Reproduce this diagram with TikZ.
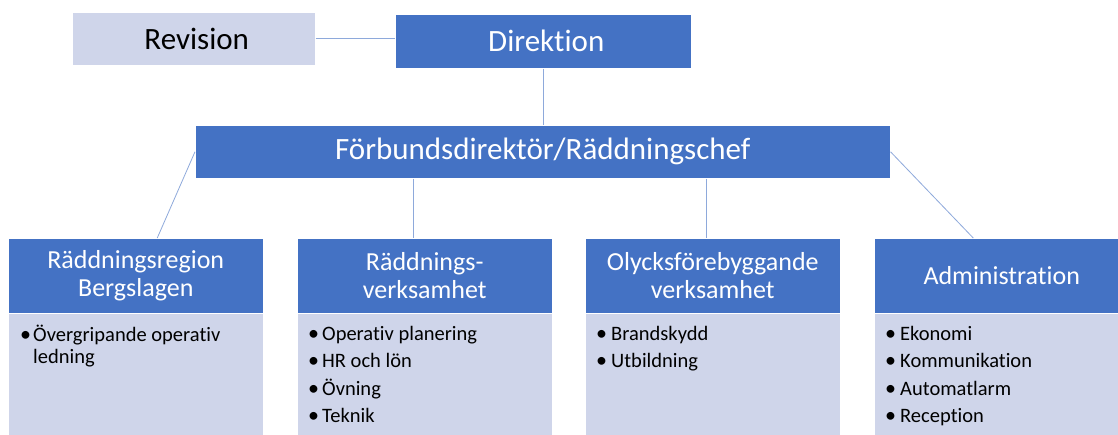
\documentclass[tikz,border=0pt]{standalone}
\usepackage{fontspec}
\setmainfont[Ligatures={NoCommon,NoContextual}]{Carlito}
\usetikzlibrary{calc}
\definecolor{hdr}{HTML}{4472C4}
\definecolor{lite}{HTML}{CFD5EA}
\definecolor{conn}{HTML}{8EA9DB}
\tikzset{
  box/.style={draw=white, line width=0.5pt, inner sep=0pt, anchor=north west, align=center},
  topbox/.style={box, fill=hdr, text=white, font=\fontsize{31}{37}\selectfont},
  revbox/.style={box, fill=lite, text=black, font=\fontsize{31}{37}\selectfont},
  headbox/.style={box, fill=hdr, text=white, font=\fontsize{26}{28}\selectfont, minimum width=255pt, minimum height=75pt},
  bodybox/.style={box, fill=lite, minimum width=255pt, minimum height=125pt},
  itemtxt/.style={anchor=base west, inner sep=0pt, text=black, font=\fontsize{20.5}{22}\selectfont},
  bul/.style={itemtxt, font=\fontsize{22}{22}\selectfont},
  conline/.style={draw=conn, line width=0.8pt}
}
\begin{document}
\begin{tikzpicture}[x=1pt,y=-1pt]
\useasboundingbox (0,0) rectangle (1118,434);
\clip (0,0) rectangle (1118,434);
\fill[white] (0,0) rectangle (1118,434);

% top level
\node[revbox, minimum width=243pt, minimum height=53pt] (rev) at (72,12) {\hspace*{6pt}Revision};
\node[topbox, minimum width=296pt, minimum height=54pt] (dir) at (395,14) {\hspace*{6pt}Direktion};
\node[topbox, minimum width=695pt, minimum height=53pt] (forb) at (195,125) {Förbundsdirektör/Räddningschef};

% bottom boxes
\node[headbox] (h1) at (8,238) {Räddningsregion\\Bergslagen};
\node[bodybox] (b1) at (8,313) {};
\node[headbox] (h2) at (297,238) {Räddnings-\\verksamhet};
\node[bodybox] (b2) at (297,313) {};
\node[headbox] (h3) at (585,238) {Olycksförebyggande\\verksamhet};
\node[bodybox] (b3) at (585,313) {};
\node[headbox] (h4) at (874,238) {Administration};
\node[bodybox] (b4) at (874,313) {};

% connectors
\coordinate (c1) at ([xshift=21.5pt]h1.north);
\coordinate (c2) at ([xshift=-11.5pt]h2.north);
\coordinate (c3) at ([xshift=-6.5pt]h3.north);
\coordinate (c4) at ([xshift=-28.5pt]h4.north);
\draw[conline] (rev.east |- 0,38) -- (dir.west |- 0,38);
\draw[conline] (dir.south) -- (forb.north -| dir.south);
\draw[conline] (forb.west) -- (c1);
\draw[conline] (forb.south -| c2) -- (c2);
\draw[conline] (forb.south -| c3) -- (c3);
\draw[conline] (forb.east) -- (c4);

% items box 1
\node[bul] (p1) at (20,341) {\textbullet};
\node[itemtxt] (t1a) at (33,341) {Övergripande operativ};
\node[itemtxt] (t1b) at (33,363) {ledning};

% items box 2
\node[bul] (p2a) at (308,340) {\textbullet};
\node[itemtxt] (t2a) at (322,340) {Operativ planering};
\node[bul] (p2b) at (308,367.5) {\textbullet};
\node[itemtxt] (t2b) at (322,367.5) {HR och lön};
\node[bul] (p2c) at (308,395) {\textbullet};
\node[itemtxt] (t2c) at (322,395) {Övning};
\node[bul] (p2d) at (308,422.5) {\textbullet};
\node[itemtxt] (t2d) at (322,422.5) {Teknik};

% items box 3
\node[bul] (p3a) at (596,340) {\textbullet};
\node[itemtxt] (t3a) at (611,340) {Brandskydd};
\node[bul] (p3b) at (596,367.5) {\textbullet};
\node[itemtxt] (t3b) at (611,367.5) {Utbildning};

% items box 4
\node[bul] (p4a) at (885,340) {\textbullet};
\node[itemtxt] (t4a) at (900,340) {Ekonomi};
\node[bul] (p4b) at (885,367.5) {\textbullet};
\node[itemtxt] (t4b) at (900,367.5) {Kommunikation};
\node[bul] (p4c) at (885,395) {\textbullet};
\node[itemtxt] (t4c) at (900,395) {Automatlarm};
\node[bul] (p4d) at (885,422.5) {\textbullet};
\node[itemtxt] (t4d) at (900,422.5) {Reception};
\end{tikzpicture}
\end{document}
